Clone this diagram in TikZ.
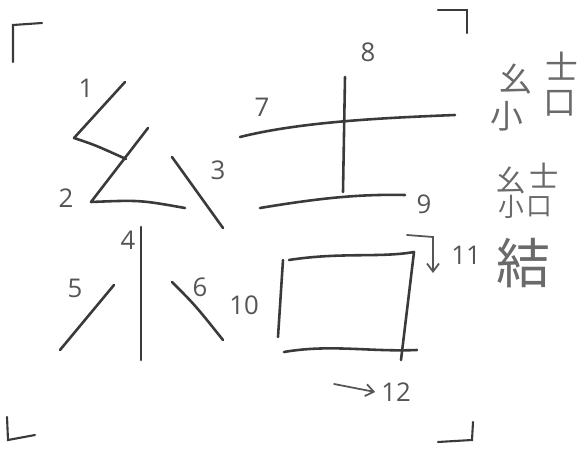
\documentclass[tikz,border=0pt]{standalone}
\usepackage{fontspec}
\setmainfont{Open Sans}
\newfontfamily\cjk{Noto Sans CJK JP}
\definecolor{InkGray}{HTML}{3A3A3A}
\definecolor{PencilGray}{HTML}{555555}
\definecolor{NoteGray}{HTML}{6A6A6A}
\usetikzlibrary{arrows.meta}

\begin{document}
\begin{tikzpicture}[
        x=0.03cm, y=-0.03cm,
        stroke/.style={draw=InkGray, line width=2.2pt, line cap=round, line join=round},
        corner/.style={draw=InkGray, line width=1.8pt, line cap=round},
        num/.style={text=PencilGray, font=\fontsize{22}{22}\selectfont, inner sep=0pt},
        part/.style={text=NoteGray, font=\cjk\fontsize{28}{28}\selectfont, inner sep=0pt},
        hook/.style={draw=PencilGray, line width=1.5pt, line cap=round, -{Straight Barb[length=2.4mm, width=3.6mm]}}
    ]
        \useasboundingbox (0,0) rectangle (581,451);
        % frame corners
        \draw[corner] (13,62) -- (13,25) -- (42,23);
        \draw[corner] (438,10) -- (467,10) -- (467,33);
        \draw[corner] (7,417) -- (8,440) -- (35,435);
        \draw[corner] (438,442) -- (472,440) -- (473,422);
        % strokes of the character
        \draw[stroke] (125,82) -- (74,138) .. controls (95,145) .. (126,159);
        \draw[stroke] (148,128) -- (91,202) .. controls (140,200) .. (185,208);
        \draw[stroke] (172,157) -- (223,228);
        \draw[stroke] (141,227) -- (141,360);
        \draw[stroke] (114,285) -- (60,350);
        \draw[stroke] (172,282) .. controls (195,305) .. (223,340);
        \draw[stroke] (240,137) .. controls (300,122) and (380,118) .. (455,115);
        \draw[stroke] (345,77) -- (343,192);
        \draw[stroke] (260,208) .. controls (320,198) and (360,194) .. (405,195);
        \draw[stroke] (283,260) -- (278,337);
        \draw[stroke] (289,260) .. controls (340,252) and (380,258) .. (414,252) -- (401,360);
        \draw[stroke] (284,352) .. controls (330,344) and (370,352) .. (417,350);
        % stroke numbers
        \node[num] (n1) at (86,88) {1};
        \node[num] (n2) at (66,198) {2};
        \node[num] (n3) at (218,170) {3};
        \node[num] (n4) at (128,240) {4};
        \node[num] (n5) at (75,288) {5};
        \node[num] (n6) at (200,287) {6};
        \node[num] (n7) at (262,107) {7};
        \node[num] (n8) at (368,52) {8};
        \node[num] (n9) at (424,204) {9};
        \node[num] (n10) at (244,305) {10};
        \node[num] (n11) at (466,255) {11};
        \node[num] (n12) at (396,392) {12};
        \coordinate (h11) at (407,235);
        \coordinate (t11) at (433,273);
        \coordinate (h12) at (334,384);
        \draw[hook] (h11) -- (433,237) -- (t11);
        \draw[hook] (h12) -- ([xshift=-5pt]n12.west);
        % parts coming together
        \node[part] (p1a) at (516,79) {幺};
        \node[part] (p1b) at (562,66) {士};
        \node[part] (p1c) at (507,116) {小};
        \node[part] (p1d) at (560,103) {口};
        \node[part, font=\cjk\fontsize{25}{25}\selectfont] (p2a) at (511,180) {幺};
        \node[part, font=\cjk\fontsize{25}{25}\selectfont] (p2b) at (544,176) {士};
        \node[part, font=\cjk\fontsize{22}{22}\selectfont] (p2c) at (511,207) {小};
        \node[part, font=\cjk\fontsize{22}{22}\selectfont] (p2d) at (539,207) {口};
        \node[part, font=\cjk\fontsize{46}{46}\selectfont] (p3) at (523,263) {結};
    \end{tikzpicture}
\end{document}
